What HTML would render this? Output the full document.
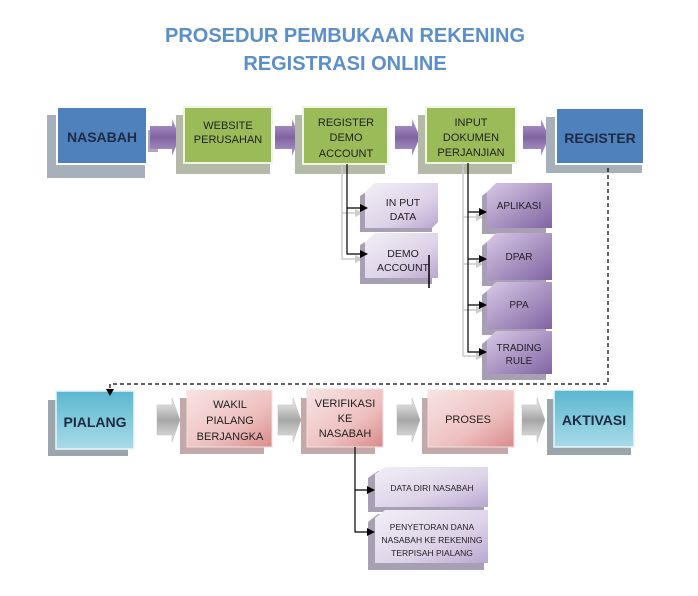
<!DOCTYPE html>
<html><head><meta charset="utf-8"><style>
body{margin:0;background:#fff;}
svg{display:block;font-family:"Liberation Sans",Calibri,sans-serif;}
</style></head><body>
<svg width="698" height="596" viewBox="0 0 698 596" xmlns="http://www.w3.org/2000/svg">
<defs>
<linearGradient id="pur" x1="0" y1="0" x2="1" y2="1"><stop offset="0" stop-color="#f2eff6"/><stop offset="0.6" stop-color="#ddd3e8"/><stop offset="1" stop-color="#b9a6d0"/></linearGradient>
<linearGradient id="purd" x1="0" y1="0" x2="1" y2="1"><stop offset="0" stop-color="#d8c9e6"/><stop offset="1" stop-color="#8064a2"/></linearGradient>
<linearGradient id="pink" x1="0" y1="0" x2="1" y2="1"><stop offset="0" stop-color="#f7e4e4"/><stop offset="0.6" stop-color="#eec0c0"/><stop offset="1" stop-color="#d98a8a"/></linearGradient>
<linearGradient id="cyan" x1="0" y1="0" x2="0" y2="1"><stop offset="0" stop-color="#5bb7cf"/><stop offset="1" stop-color="#a8dbe8"/></linearGradient>
<linearGradient id="arp" x1="0" y1="0" x2="0" y2="1"><stop offset="0" stop-color="#b49bd0"/><stop offset="0.5" stop-color="#8064a2"/><stop offset="1" stop-color="#b49bd0"/></linearGradient>
<linearGradient id="arg" x1="0" y1="0" x2="0" y2="1"><stop offset="0" stop-color="#f2f2f2"/><stop offset="0.5" stop-color="#a6a6a6"/><stop offset="1" stop-color="#e6e6e6"/></linearGradient>
<marker id="ah" markerWidth="8" markerHeight="8" refX="7" refY="4" orient="auto" markerUnits="userSpaceOnUse"><path d="M0,0L8,4L0,8z" fill="#000"/></marker>
<marker id="ahg" markerWidth="8" markerHeight="8" refX="7" refY="4" orient="auto" markerUnits="userSpaceOnUse"><path d="M0,0L8,4L0,8z" fill="#ccc"/></marker>
</defs>

<text x="345" y="42" text-anchor="middle" font-size="20" font-weight="bold" fill="#5b8fc9">PROSEDUR PEMBUKAAN REKENING</text>
<text x="345" y="70" text-anchor="middle" font-size="20" font-weight="bold" fill="#5b8fc9">REGISTRASI ONLINE</text>

<!-- Row 1 -->
<rect x="47" y="115" width="98" height="63" fill="#a6b0bb"/>
<rect x="57" y="107" width="90" height="57" fill="#4f81bd" stroke="#fff" stroke-width="2"/>
<text x="102" y="142" text-anchor="middle" font-size="14" font-weight="bold" fill="#1f2a44">NASABAH</text>

<rect x="148" y="130" width="10" height="22" fill="#b0a6c0"/>
<path d="M150,126 H172 V119 L180,137 L172,156 V149 H150Z" fill="url(#arp)"/>

<rect x="176" y="115" width="94" height="59" fill="#b4b9a8"/>
<rect x="184" y="107" width="88" height="56" fill="#9bbb59" stroke="#eef5e0" stroke-width="2"/>
<text x="228" y="129" text-anchor="middle" font-size="11" fill="#222">WEBSITE</text>
<text x="228" y="143" text-anchor="middle" font-size="11" fill="#222">PERUSAHAN</text>

<path d="M275,126 H292 V119 L300,137 L292,156 V149 H275Z" fill="url(#arp)"/>

<rect x="295" y="115" width="90" height="59" fill="#b4b9a8"/>
<rect x="303" y="107" width="85" height="57" fill="#9bbb59" stroke="#eef5e0" stroke-width="2"/>
<text x="346" y="126" text-anchor="middle" font-size="11" fill="#222">REGISTER</text>
<text x="346" y="141" text-anchor="middle" font-size="11" fill="#222">DEMO</text>
<text x="346" y="157" text-anchor="middle" font-size="11" fill="#222">ACCOUNT</text>

<path d="M395,126 H412 V119 L420,137 L412,156 V149 H395Z" fill="url(#arp)"/>

<rect x="418" y="115" width="94" height="59" fill="#b4b9a8"/>
<rect x="426" y="107" width="90" height="56" fill="#9bbb59" stroke="#eef5e0" stroke-width="2"/>
<text x="471" y="126" text-anchor="middle" font-size="11" fill="#222">INPUT</text>
<text x="471" y="141" text-anchor="middle" font-size="11" fill="#222">DOKUMEN</text>
<text x="471" y="156" text-anchor="middle" font-size="11" fill="#222">PERJANJIAN</text>

<path d="M523,126 H541 V119 L549,137 L541,156 V149 H523Z" fill="url(#arp)"/>

<rect x="546" y="117" width="96" height="56" fill="#a6b0bb"/>
<rect x="556" y="108" width="88" height="56" fill="#4f81bd" stroke="#fff" stroke-width="2"/>
<text x="600" y="143" text-anchor="middle" font-size="14" font-weight="bold" fill="#1f2a44">REGISTER</text>

<!-- left subtree -->
<polyline points="342,164 342,259 362,259" fill="none" stroke="#ccc" stroke-width="1.5" marker-end="url(#ahg)"/>
<line x1="342" y1="213" x2="362" y2="213" stroke="#ccc" stroke-width="1.5" marker-end="url(#ahg)"/>
<path d="M360,196 L372,188 H432 V232 H360Z" fill="#a79fb3"/>
<path d="M365,192 L375,183 H438 V222 L432,228 H365Z" fill="url(#pur)"/>
<text x="403" y="206" text-anchor="middle" font-size="10.5" fill="#222">IN PUT</text>
<text x="403" y="220" text-anchor="middle" font-size="10.5" fill="#222">DATA</text>
<path d="M360,245 L372,238 H432 V284 H360Z" fill="#a79fb3"/>
<path d="M365,242 L375,233 H438 V278 H365Z" fill="url(#pur)"/>
<text x="403" y="257" text-anchor="middle" font-size="10.5" fill="#222">DEMO</text>
<text x="403" y="271" text-anchor="middle" font-size="10.5" fill="#222">ACCOUNT</text>
<line x1="429" y1="255" x2="429" y2="288" stroke="#000" stroke-width="1.5"/>
<polyline points="347,164 347,254 367,254" fill="none" stroke="#000" stroke-width="1.2" marker-end="url(#ah)"/>
<line x1="347" y1="208" x2="367" y2="208" stroke="#000" stroke-width="1.2" marker-end="url(#ah)"/>

<!-- right subtree -->
<polyline points="463,163 463,356 483,356" fill="none" stroke="#ccc" stroke-width="1.5" marker-end="url(#ahg)"/>
<line x1="463" y1="217" x2="483" y2="217" stroke="#ccc" stroke-width="1.5" marker-end="url(#ahg)"/>
<line x1="463" y1="264" x2="483" y2="264" stroke="#ccc" stroke-width="1.5" marker-end="url(#ahg)"/>
<line x1="463" y1="310" x2="483" y2="310" stroke="#ccc" stroke-width="1.5" marker-end="url(#ahg)"/>
<g>
<path d="M482,196 L492,188 H546 V234 H482Z" fill="#a79fb3"/>
<path d="M487,192 L496,183 H552 V228 H487Z" fill="url(#purd)"/>
<text x="519" y="209" text-anchor="middle" font-size="10" fill="#222">APLIKASI</text>
<path d="M482,246 L492,238 H546 V286 H482Z" fill="#a79fb3"/>
<path d="M487,242 L496,233 H552 V280 H487Z" fill="url(#purd)"/>
<text x="519" y="260" text-anchor="middle" font-size="10" fill="#222">DPAR</text>
<path d="M482,295 L492,287 H546 V335 H482Z" fill="#a79fb3"/>
<path d="M487,291 L496,282 H552 V329 H487Z" fill="url(#purd)"/>
<text x="519" y="308" text-anchor="middle" font-size="10" fill="#222">PPA</text>
<path d="M482,344 L492,336 H546 V380 H482Z" fill="#a79fb3"/>
<path d="M487,340 L496,331 H552 V374 H487Z" fill="url(#purd)"/>
<text x="519" y="351" text-anchor="middle" font-size="10" fill="#222">TRADING</text>
<text x="519" y="364" text-anchor="middle" font-size="10" fill="#222">RULE</text>
</g>
<polyline points="468,163 468,352 486,352" fill="none" stroke="#000" stroke-width="1.2" marker-end="url(#ah)"/>
<line x1="468" y1="212" x2="486" y2="212" stroke="#000" stroke-width="1.2" marker-end="url(#ah)"/>
<line x1="468" y1="259" x2="486" y2="259" stroke="#000" stroke-width="1.2" marker-end="url(#ah)"/>
<line x1="468" y1="305" x2="486" y2="305" stroke="#000" stroke-width="1.2" marker-end="url(#ah)"/>

<!-- dashed -->
<polyline points="608,168 608,384 110,384 110,394" fill="none" stroke="#000" stroke-width="1.2" stroke-dasharray="4,3"/>

<!-- Row 2 -->
<rect x="48" y="400" width="80" height="56" fill="#9aa5ae"/>
<rect x="56" y="391" width="78" height="58" fill="url(#cyan)" stroke="#eaf6fa" stroke-width="1.5"/>
<text x="95" y="427" text-anchor="middle" font-size="14" font-weight="bold" fill="#1f2a44">PIALANG</text>
<path d="M106,389 L110,396 L114,389Z" fill="#000"/>

<path d="M157,405 H172 V398 L180,420 L172,442 V435 H157Z" fill="url(#arg)" stroke="#bbb" stroke-width="0.5"/>

<rect x="180" y="398" width="84" height="56" fill="#c4a9ab"/>
<rect x="187" y="390" width="85" height="57" fill="url(#pink)" stroke="#f5dede" stroke-width="1"/>
<text x="230" y="408" text-anchor="middle" font-size="11" fill="#222">WAKIL</text>
<text x="230" y="424" text-anchor="middle" font-size="11" fill="#222">PIALANG</text>
<text x="230" y="440" text-anchor="middle" font-size="11" fill="#222">BERJANGKA</text>

<path d="M278,405 H293 V398 L301,420 L293,442 V435 H278Z" fill="url(#arg)" stroke="#bbb" stroke-width="0.5"/>

<rect x="301" y="398" width="74" height="56" fill="#c4a9ab"/>
<rect x="307" y="389" width="76" height="58" fill="url(#pink)" stroke="#f5dede" stroke-width="1"/>
<text x="345" y="407" text-anchor="middle" font-size="11" fill="#222">VERIFIKASI</text>
<text x="345" y="422" text-anchor="middle" font-size="11" fill="#222">KE</text>
<text x="345" y="437" text-anchor="middle" font-size="11" fill="#222">NASABAH</text>

<path d="M397,405 H412 V398 L420,420 L412,442 V435 H397Z" fill="url(#arg)" stroke="#bbb" stroke-width="0.5"/>

<rect x="422" y="398" width="86" height="56" fill="#c4a9ab"/>
<rect x="428" y="390" width="86" height="57" fill="url(#pink)" stroke="#f5dede" stroke-width="1"/>
<text x="468" y="423" text-anchor="middle" font-size="11" fill="#222">PROSES</text>

<path d="M522,405 H537 V398 L545,420 L537,442 V435 H522Z" fill="url(#arg)" stroke="#bbb" stroke-width="0.5"/>

<rect x="547" y="399" width="84" height="56" fill="#9aa5ae"/>
<rect x="554" y="390" width="80" height="57" fill="url(#cyan)" stroke="#eaf6fa" stroke-width="1.5"/>
<text x="594" y="425" text-anchor="middle" font-size="14" font-weight="bold" fill="#1f2a44">AKTIVASI</text>

<!-- bottom subtree -->
<path d="M368,478 L378,471 H484 V512 H368Z" fill="#a79fb3"/>
<path d="M375,474 L385,467 H488 V507 H375Z" fill="url(#pur)"/>
<text x="432" y="491" text-anchor="middle" font-size="8.5" fill="#222">DATA DIRI NASABAH</text>
<path d="M368,522 L378,514 H484 V570 H368Z" fill="#a79fb3"/>
<path d="M375,518 L385,510 H488 V563 H375Z" fill="url(#pur)"/>
<text x="432" y="530" text-anchor="middle" font-size="8.5" fill="#222">PENYETORAN DANA</text>
<text x="432" y="543" text-anchor="middle" font-size="8.5" fill="#222">NASABAH KE REKENING</text>
<text x="432" y="556" text-anchor="middle" font-size="8.5" fill="#222">TERPISAH PIALANG</text>
<polyline points="355,447 355,532 374,532" fill="none" stroke="#000" stroke-width="1.2" marker-end="url(#ah)"/>
<line x1="355" y1="490" x2="374" y2="490" stroke="#000" stroke-width="1.2" marker-end="url(#ah)"/>
</svg>
</body></html>
